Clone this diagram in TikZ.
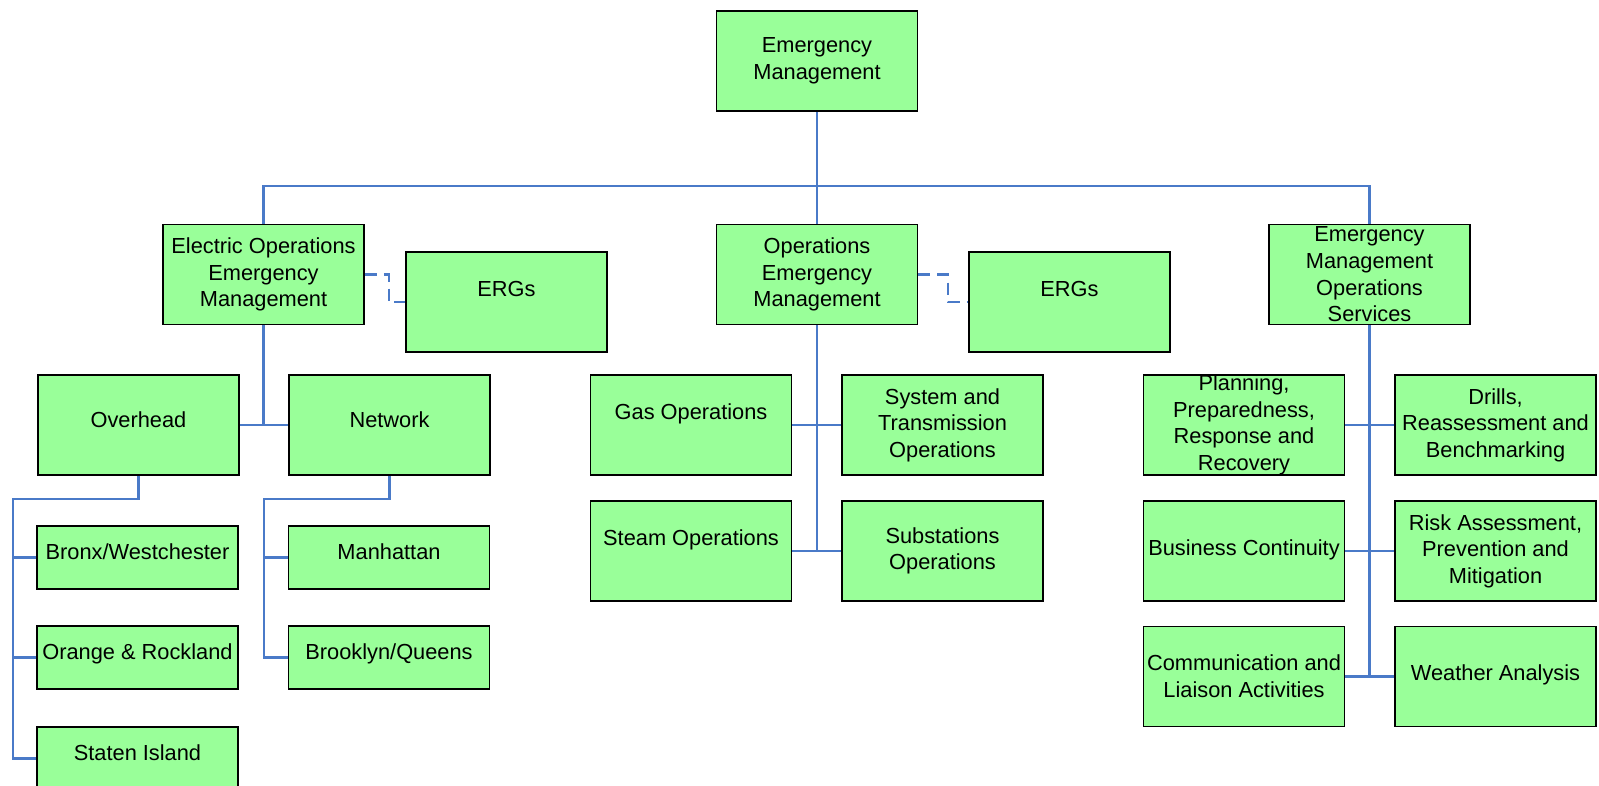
\documentclass[tikz,border=0pt]{standalone}
\usepackage{fontspec}
\setmainfont{Liberation Sans}
\definecolor{boxgreen}{RGB}{153,255,153}
\definecolor{linkblue}{RGB}{74,122,200}
\tikzset{lift/.style={text height=8pt, text depth=#1}}
\begin{document}
\begin{tikzpicture}[x=0.5pt,y=-0.5pt]
	\tikzstyle{every node} = [font=\fontsize{10.9}{13.3}\selectfont];
	\tikzstyle{unit} = [draw=black, line width=0.8pt, fill=boxgreen, align=center, inner sep=0pt, minimum width=100.5pt, minimum height=50pt];
	\tikzstyle{subunit} = [unit, minimum height=31.5pt];
	\tikzstyle{link} = [draw=linkblue, line width=1.1pt];
	\tikzstyle{dotlink} = [link, dash pattern=on 6pt off 3.5pt];
	\useasboundingbox (0,0) rectangle (1599,786);

	% head
	\node[unit] (em) at (817,61) {Emergency\\Management};
	\coordinate (bus) at (817,186);

	% second level
	\node[unit] (eoem) at (263.5,274.5) {Electric Operations\\Emergency\\Management};
	\node[unit, lift=13.5pt] (ergsA) at (506.5,302) {ERGs};
	\node[unit] (oem) at (817,274.5) {Operations\\Emergency\\Management};
	\node[unit, lift=13.5pt] (ergsB) at (1069.5,302) {ERGs};
	\node[unit] (emos) at (1369.5,274.5) {Emergency\\Management\\Operations\\Services};

	% electric
	\node[unit, lift=6pt] (overhead) at (138.5,425) {Overhead};
	\node[unit, lift=6pt] (network) at (389.5,425) {Network};
	\node[subunit, lift=6.5pt] (bronx) at (137.5,557.5) {Bronx/Westchester};
	\node[subunit, lift=6.5pt] (orange) at (137.5,657.5) {Orange \& Rockland};
	\node[subunit, lift=6.5pt] (staten) at (137.5,758.5) {Staten Island};
	\node[subunit, lift=6.5pt] (manhattan) at (389,557.5) {Manhattan};
	\node[subunit, lift=6.5pt] (brooklyn) at (389,657.5) {Brooklyn/Queens};
	\coordinate (ohbus) at (13,499);
	\coordinate (nwbus) at (264,499);

	% operations
	\node[unit, lift=13.5pt] (gas) at (691,425) {Gas Operations};
	\node[unit] (system) at (942.5,425) {System and\\Transmission\\Operations};
	\node[unit, lift=14pt] (steam) at (691,551) {Steam Operations};
	\node[unit] (substations) at (942.5,551) {Substations\\Operations};

	% services
	\node[unit] (planning) at (1244,425) {Planning,\\Preparedness,\\Response and\\Recovery};
	\node[unit] (drills) at (1495.5,425) {Drills,\\Reassessment and\\Benchmarking};
	\node[unit, lift=4pt] (business) at (1244,551) {Business Continuity};
	\node[unit] (risk) at (1495.5,551) {Risk Assessment,\\Prevention and\\Mitigation};
	\node[unit] (comm) at (1244,676.5) {Communication and\\Liaison Activities};
	\node[unit, lift=4pt] (weather) at (1495.5,676.5) {Weather Analysis};

	% links
	\draw[link] (em.south) -- (bus);
	\draw[link] (oem.north) -- (bus);
	\draw[link] (eoem.north) |- (bus) -| (emos.north);
	\draw[dotlink] (eoem.east) -- ++(24,0) |- (ergsA.west);
	\draw[dotlink] (oem.east) -- ++(30,0) |- (ergsB.west);

	\draw[link] (eoem.south) |- (overhead.east);
	\draw[link] (eoem.south) |- (network.west);
	\draw[link] (overhead.south) |- (ohbus) |- (staten.west);
	\foreach \n in {bronx,orange} \draw[link] (ohbus) |- (\n.west);
	\draw[link] (network.south) |- (nwbus) |- (brooklyn.west);
	\draw[link] (nwbus) |- (manhattan.west);

	\draw[link] (oem.south) |- (steam.east);
	\draw[link] (oem.south) |- (substations.west);
	\draw[link] (gas.east) -- (system.west);

	\draw[link] (emos.south) |- (comm.east);
	\draw[link] (emos.south) |- (weather.west);
	\draw[link] (planning.east) -- (drills.west);
	\draw[link] (business.east) -- (risk.west);
\end{tikzpicture}
\end{document}
